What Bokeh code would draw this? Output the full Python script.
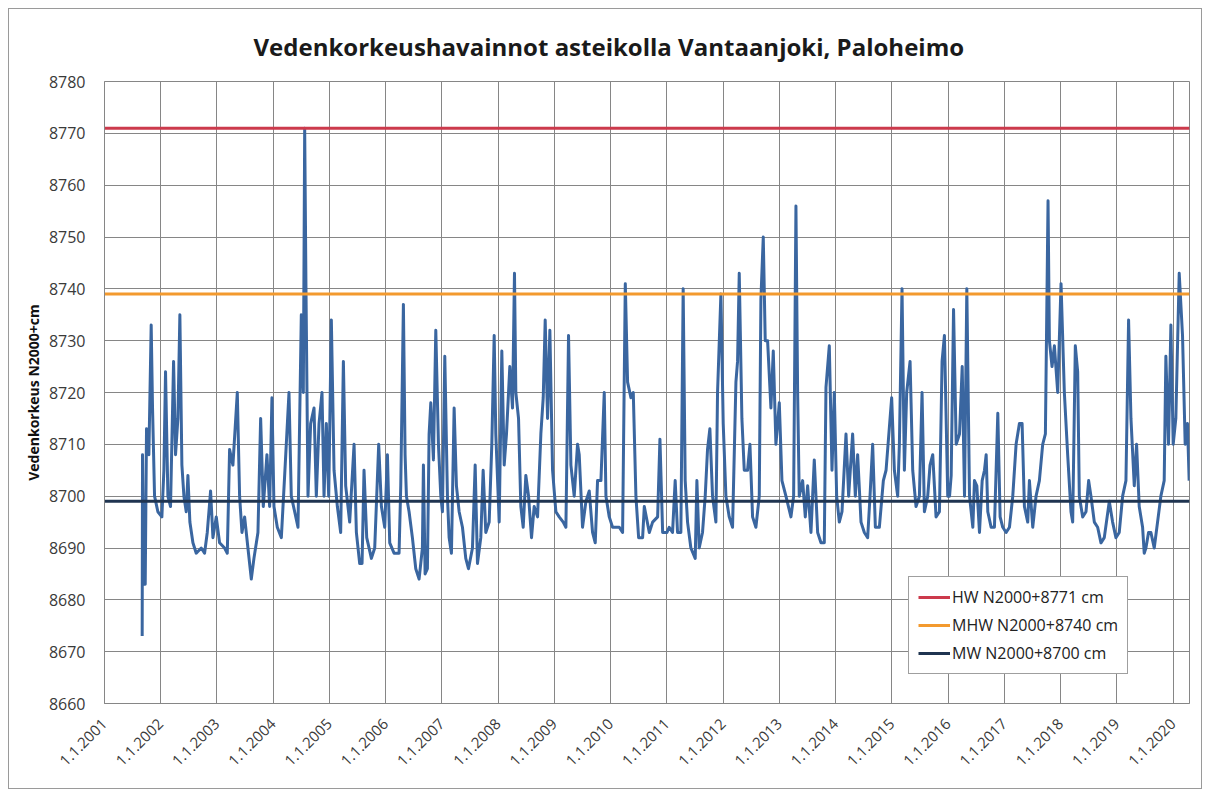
import math
from bokeh.plotting import figure
from bokeh.models import Range1d, FixedTicker, Legend, LegendItem
from bokeh.embed import file_html
from bokeh.resources import INLINE

# ---- data: observation dates (decimal year) and water levels (N2000 + cm) ----
t = [
    2001.670, 2001.676, 2001.694, 2001.724, 2001.747, 2001.789, 2001.830, 2001.854, 2001.890, 2001.949,
    2002.020, 2002.056, 2002.085, 2002.127, 2002.174, 2002.228, 2002.263, 2002.305, 2002.340, 2002.376,
    2002.412, 2002.453, 2002.483, 2002.518, 2002.572, 2002.631, 2002.720, 2002.779, 2002.827, 2002.886,
    2002.928, 2002.987, 2003.046, 2003.135, 2003.183, 2003.224, 2003.283, 2003.361, 2003.402, 2003.444,
    2003.491, 2003.550, 2003.610, 2003.657, 2003.728, 2003.776, 2003.823, 2003.888, 2003.936, 2003.977,
    2004.013, 2004.072, 2004.144, 2004.203, 2004.280, 2004.321, 2004.381, 2004.440, 2004.499, 2004.535,
    2004.559, 2004.582, 2004.618, 2004.665, 2004.725, 2004.766, 2004.814, 2004.867, 2004.903, 2004.944,
    2004.986, 2005.033, 2005.081, 2005.140, 2005.199, 2005.247, 2005.288, 2005.359, 2005.437, 2005.478,
    2005.537, 2005.579, 2005.614, 2005.662, 2005.745, 2005.804, 2005.875, 2005.923, 2005.982,
    2006.030, 2006.071, 2006.148, 2006.237, 2006.267, 2006.297, 2006.314, 2006.344, 2006.368, 2006.415,
    2006.474, 2006.534, 2006.593, 2006.652, 2006.670, 2006.700, 2006.741, 2006.771, 2006.801, 2006.848,
    2006.890, 2006.937, 2006.979, 2007.008, 2007.050, 2007.097, 2007.127, 2007.168, 2007.216, 2007.257,
    2007.305, 2007.364, 2007.423, 2007.471, 2007.542, 2007.590, 2007.631, 2007.690, 2007.732, 2007.779,
    2007.839, 2007.886, 2007.928, 2007.957, 2008.017, 2008.064, 2008.106, 2008.147, 2008.206, 2008.254,
    2008.289, 2008.313, 2008.361, 2008.402, 2008.444, 2008.491, 2008.539, 2008.592, 2008.639, 2008.699,
    2008.758, 2008.800, 2008.835, 2008.877, 2008.918, 2008.966, 2009.025, 2009.084, 2009.155, 2009.203,
    2009.250, 2009.292, 2009.351, 2009.410, 2009.440, 2009.499, 2009.559, 2009.618, 2009.677, 2009.725,
    2009.766, 2009.826, 2009.885, 2009.915, 2009.974, 2010.033, 2010.152, 2010.211, 2010.259, 2010.300,
    2010.359, 2010.401, 2010.448, 2010.496, 2010.567, 2010.597, 2010.686, 2010.745, 2010.834, 2010.875,
    2010.923, 2011.000, 2011.039, 2011.099, 2011.146, 2011.188, 2011.247, 2011.288, 2011.324, 2011.366,
    2011.425, 2011.502, 2011.532, 2011.573, 2011.632, 2011.680, 2011.721, 2011.763, 2011.810, 2011.870,
    2011.899, 2011.959, 2012.000, 2012.048, 2012.107, 2012.166, 2012.226, 2012.255, 2012.285, 2012.332,
    2012.374, 2012.433, 2012.475, 2012.522, 2012.581, 2012.641, 2012.670, 2012.712, 2012.747, 2012.789,
    2012.848, 2012.890, 2012.937, 2012.997, 2013.044, 2013.115, 2013.204, 2013.252, 2013.293, 2013.323,
    2013.352, 2013.412, 2013.459, 2013.501, 2013.560, 2013.619, 2013.679, 2013.738, 2013.797, 2013.827,
    2013.886, 2013.934, 2013.975, 2014.017, 2014.064, 2014.112, 2014.183, 2014.230, 2014.301, 2014.349,
    2014.390, 2014.450, 2014.509, 2014.568, 2014.610, 2014.657, 2014.705, 2014.776, 2014.847, 2014.895,
    2014.995, 2015.043, 2015.102, 2015.132, 2015.179, 2015.221, 2015.262, 2015.322, 2015.369, 2015.428,
    2015.488, 2015.535, 2015.577, 2015.636, 2015.677, 2015.725, 2015.784, 2015.844, 2015.891, 2015.933,
    2015.992, 2016.024, 2016.053, 2016.095, 2016.142, 2016.201, 2016.249, 2016.290, 2016.331, 2016.379,
    2016.438, 2016.467, 2016.509, 2016.556, 2016.604, 2016.645, 2016.675, 2016.704, 2016.763, 2016.822,
    2016.882, 2016.923, 2016.970, 2017.030, 2017.089, 2017.148, 2017.207, 2017.266, 2017.314, 2017.355,
    2017.414, 2017.444, 2017.503, 2017.562, 2017.621, 2017.680, 2017.728, 2017.775, 2017.799, 2017.846,
    2017.888, 2017.947, 2018.006, 2018.065, 2018.124, 2018.183, 2018.213, 2018.260, 2018.302, 2018.331,
    2018.391, 2018.450, 2018.497, 2018.538, 2018.598, 2018.657, 2018.716, 2018.775, 2018.864, 2018.923,
    2018.982, 2019.041, 2019.101, 2019.160, 2019.207, 2019.249, 2019.308, 2019.349, 2019.396, 2019.456,
    2019.485, 2019.515, 2019.562, 2019.604, 2019.663, 2019.722, 2019.781, 2019.840, 2019.870, 2019.917,
    2019.959, 2020.000, 2020.047, 2020.107, 2020.166, 2020.213, 2020.254, 2020.284,
]
level = [
    8673, 8708, 8683, 8683, 8713, 8708, 8733, 8717, 8700, 8697,
    8696, 8705, 8724, 8700, 8698, 8726, 8708, 8715, 8735, 8706,
    8700, 8697, 8704, 8695, 8691, 8689, 8690, 8689, 8693, 8701,
    8692, 8696, 8691, 8690, 8689, 8709, 8706, 8720, 8700, 8693,
    8696, 8690, 8684, 8688, 8693, 8715, 8698, 8708, 8698, 8719,
    8698, 8694, 8692, 8704, 8720, 8700, 8697, 8694, 8735, 8720,
    8771, 8740, 8700, 8714, 8717, 8700, 8714, 8720, 8700, 8714,
    8700, 8734, 8705, 8698, 8693, 8726, 8702, 8695, 8710, 8693,
    8687, 8687, 8705, 8692, 8688, 8690, 8710, 8698, 8694,
    8708, 8691, 8689, 8689, 8702, 8724, 8737, 8708, 8700, 8697,
    8692, 8686, 8684, 8690, 8706, 8685, 8686, 8712, 8718, 8707,
    8732, 8710, 8700, 8697, 8727, 8700, 8692, 8689, 8717, 8702,
    8697, 8694, 8688, 8686, 8690, 8706, 8687, 8692, 8705, 8693,
    8695, 8710, 8731, 8712, 8695, 8728, 8706, 8712, 8725, 8717,
    8743, 8720, 8715, 8698, 8694, 8704, 8700, 8692, 8698, 8696,
    8712, 8719, 8734, 8715, 8732, 8705, 8697, 8696, 8695, 8694,
    8731, 8706, 8700, 8710, 8708, 8694, 8699, 8701, 8693, 8691,
    8703, 8703, 8720, 8700, 8696, 8694, 8694, 8693, 8741, 8722,
    8719, 8720, 8700, 8692, 8692, 8698, 8693, 8695, 8696, 8711,
    8693, 8693, 8694, 8693, 8703, 8693, 8693, 8740, 8703, 8695,
    8690, 8688, 8703, 8690, 8693, 8700, 8709, 8713, 8700, 8695,
    8720, 8739, 8714, 8700, 8696, 8694, 8722, 8726, 8743, 8715,
    8705, 8705, 8710, 8696, 8694, 8700, 8738, 8750, 8730, 8730,
    8717, 8728, 8710, 8718, 8703, 8700, 8696, 8700, 8756, 8720,
    8700, 8703, 8696, 8702, 8693, 8707, 8693, 8691, 8691, 8721,
    8729, 8705, 8720, 8700, 8695, 8697, 8712, 8700, 8712, 8700,
    8708, 8695, 8693, 8692, 8700, 8710, 8694, 8694, 8703, 8705,
    8719, 8705, 8700, 8710, 8740, 8705, 8720, 8726, 8705, 8698,
    8700, 8720, 8697, 8700, 8706, 8708, 8696, 8697, 8726, 8731,
    8700, 8700, 8704, 8736, 8710, 8712, 8725, 8700, 8740, 8700,
    8694, 8703, 8702, 8693, 8703, 8705, 8708, 8697, 8694, 8694,
    8716, 8696, 8694, 8693, 8694, 8700, 8710, 8714, 8714, 8698,
    8695, 8703, 8694, 8700, 8703, 8710, 8712, 8757, 8730, 8725,
    8729, 8720, 8741, 8720, 8708, 8697, 8695, 8729, 8724, 8700,
    8696, 8697, 8703, 8700, 8695, 8694, 8691, 8692, 8699, 8695,
    8692, 8693, 8700, 8703, 8734, 8715, 8702, 8710, 8698, 8694,
    8689, 8690, 8693, 8693, 8690, 8695, 8700, 8703, 8727, 8710,
    8733, 8710, 8715, 8743, 8731, 8710, 8714, 8703,
]

# reference levels
ref_names = ["HW N2000+8771 cm", "MHW N2000+8740 cm", "MW N2000+8700 cm"]
ref_levels = [8771, 8739, 8699]
ref_colors = ["#cc3a4c", "#f39a2e", "#1f3450"]

xtick_years = list(range(2001, 2021))
xtick_labels = ["1.1.%d" % y for y in xtick_years]
ytick_values = list(range(8660, 8781, 10))

X_START, X_END = 2001.0, 2020.29
Y_START, Y_END = 8660, 8780

p = figure(
    width=1194, height=781,
    x_range=Range1d(X_START, X_END), y_range=Range1d(Y_START, Y_END),
    output_backend="svg", toolbar_location=None,
    min_border_left=95, min_border_right=14, min_border_top=72, min_border_bottom=87,
    background_fill_color="white", border_fill_color="white",
)
p.styles = {"border": "1px solid #9a9a9a", "margin-left": "8px", "margin-top": "8px"}

p.title.text = "Vedenkorkeushavainnot asteikolla Vantaanjoki, Paloheimo"
p.title.text_font = "Open Sans"
p.title.text_font_size = "24px"
p.title.text_font_style = "bold"
p.title.text_color = "#1a1a1a"
p.title.align = "left"
p.title.offset = 149
p.title.standoff = 37

p.outline_line_color = "#868686"
p.outline_line_width = 1

grid_col = "#868686"
p.xgrid.ticker = FixedTicker(ticks=xtick_years)
p.ygrid.ticker = FixedTicker(ticks=ytick_values)
p.xgrid.grid_line_color = grid_col
p.ygrid.grid_line_color = grid_col
p.xgrid.grid_line_width = 1
p.ygrid.grid_line_width = 1

p.xaxis.ticker = FixedTicker(ticks=xtick_years)
p.xaxis.major_label_overrides = {y: lab for y, lab in zip(xtick_years, xtick_labels)}
p.xaxis.major_label_orientation = math.pi / 4
p.yaxis.ticker = FixedTicker(ticks=ytick_values)

for ax in (p.xaxis[0], p.yaxis[0]):
    ax.axis_line_color = grid_col
    ax.major_tick_line_color = None
    ax.minor_tick_line_color = None
    ax.major_label_text_font = "Open Sans"
    ax.major_label_text_color = "#3a3a3a"
p.xaxis.major_label_text_font_size = "15px"
p.yaxis.major_label_text_font_size = "16px"
p.xaxis.major_label_standoff = 12
p.yaxis.major_label_standoff = 13

p.yaxis.axis_label = "Vedenkorkeus N2000+cm"
p.yaxis.axis_label_text_font = "Open Sans"
p.yaxis.axis_label_text_font_size = "14px"
p.yaxis.axis_label_text_font_style = "bold"
p.yaxis.axis_label_text_color = "#111111"
p.yaxis.axis_label_standoff = 3

# observation series
p.line(t, level, line_color="#3a66a0", line_width=3, line_join="round")

# reference level lines
items = []
for name, lev, col in zip(ref_names, ref_levels, ref_colors):
    r = p.line([X_START, X_END], [lev, lev], line_color=col, line_width=3)
    items.append(LegendItem(label=name, renderers=[r]))

legend = Legend(items=items, location=(804, 29))
legend.border_line_color = "#404040"
legend.border_line_width = 1
legend.background_fill_color = "white"
legend.background_fill_alpha = 1.0
legend.label_text_font = "Open Sans"
legend.label_text_font_size = "16px"
legend.label_text_color = "#222222"
legend.glyph_width = 32
legend.label_standoff = 2
legend.spacing = 6
legend.padding = 9
legend.margin = 0
p.add_layout(legend, "center")

open("out.html", "w").write(file_html(p, INLINE))
